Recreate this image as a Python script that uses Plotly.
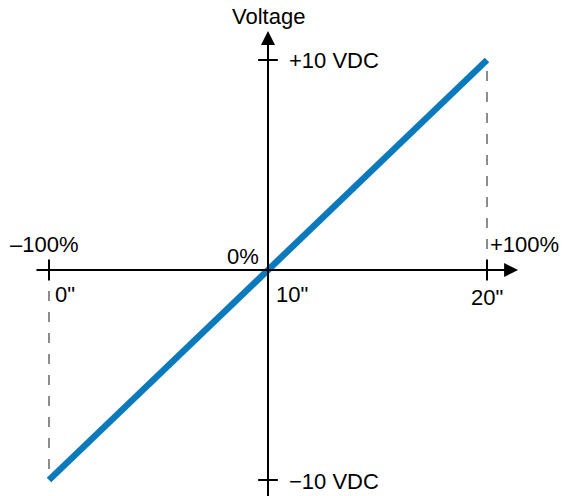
import plotly.graph_objects as go

# Transfer characteristic: position (inches) vs. output voltage
position_in = [0, 20]
voltage_vdc = [-10, 10]

x_tick_labels = ['0"', '10"', '20"']
percent_labels = ["\u2013100%", "0%", "+100%"]
volt_labels = ["+10 VDC", "\u221210 VDC"]
y_axis_title = "Voltage"

FONT = dict(family="Liberation Sans, Arial, sans-serif", size=22, color="#000")
BLUE = "#0b7abd"
GREY = "#8c8c8c"

x_lo, x_hi = position_in
y_lo, y_hi = voltage_vdc
x_mid = (x_lo + x_hi) / 2

fig = go.Figure()

# Dashed drop lines to the end points
fig.add_trace(go.Scatter(x=[x_lo, x_lo], y=[0, y_lo], mode="lines",
                         line=dict(color=GREY, width=2, dash="10px,11px"),
                         hoverinfo="skip", showlegend=False))
fig.add_trace(go.Scatter(x=[x_hi, x_hi], y=[0, y_hi], mode="lines",
                         line=dict(color=GREY, width=2, dash="10px,11px"),
                         hoverinfo="skip", showlegend=False))

shapes = []
# Tick marks on the horizontal axis at the travel limits
for xv in (x_lo, x_hi):
    shapes.append(dict(type="line", xref="x", yref="y", x0=xv, x1=xv,
                       y0=-0.5, y1=0.5, line=dict(color="#000", width=2)))
# Tick marks on the vertical axis at the voltage limits
for yv in (y_lo, y_hi):
    shapes.append(dict(type="line", xref="x", yref="y", x0=x_mid - 0.45, x1=x_mid + 0.45,
                       y0=yv, y1=yv, line=dict(color="#000", width=2)))

annotations = []
# Axes drawn as arrows through the origin
annotations.append(dict(x=21.42, y=0, ax=-0.64, ay=0, xref="x", yref="y",
                        axref="x", ayref="y", showarrow=True, arrowhead=2,
                        arrowsize=1.4, arrowwidth=2, arrowcolor="#000", text=""))
annotations.append(dict(x=x_mid, y=11.38, ax=x_mid, ay=-11.2, xref="x", yref="y",
                        axref="x", ayref="y", showarrow=True, arrowhead=2,
                        arrowsize=1.4, arrowwidth=2, arrowcolor="#000", text=""))


def label(text, x, y, xanchor, xshift=0, yshift=0):
    annotations.append(dict(text=text, x=x, y=y, xref="x", yref="y",
                            xanchor=xanchor, yanchor="middle", showarrow=False,
                            xshift=xshift, yshift=yshift, font=FONT))


label(y_axis_title, x_mid, y_hi, "center", yshift=44)
label(volt_labels[0], x_mid, y_hi, "left", xshift=19)
label(volt_labels[1], x_mid, y_lo, "left", xshift=19, yshift=-1)
label(percent_labels[0], x_lo, 0, "center", xshift=-4, yshift=26)
label(percent_labels[1], x_mid, 0, "right", xshift=-7, yshift=14)
label(percent_labels[2], x_hi, 0, "left", xshift=1, yshift=26)
label(x_tick_labels[0], x_lo, 0, "left", xshift=4, yshift=-24)
label(x_tick_labels[1], x_mid, 0, "left", xshift=6, yshift=-24)
label(x_tick_labels[2], x_hi, 0, "center", yshift=-27)

# Output line
fig.add_trace(go.Scatter(x=position_in, y=voltage_vdc, mode="lines",
                         line=dict(color=BLUE, width=6.5),
                         hoverinfo="skip", showlegend=False))

fig.update_layout(
    width=566, height=496,
    margin=dict(l=0, r=0, t=0, b=0),
    paper_bgcolor="white", plot_bgcolor="white",
    xaxis=dict(range=[-2.237, 23.607], visible=False, fixedrange=True),
    yaxis=dict(range=[-10.762, 12.857], visible=False, fixedrange=True),
    shapes=shapes, annotations=annotations,
    showlegend=False,
)

fig.write_html("out.html")
